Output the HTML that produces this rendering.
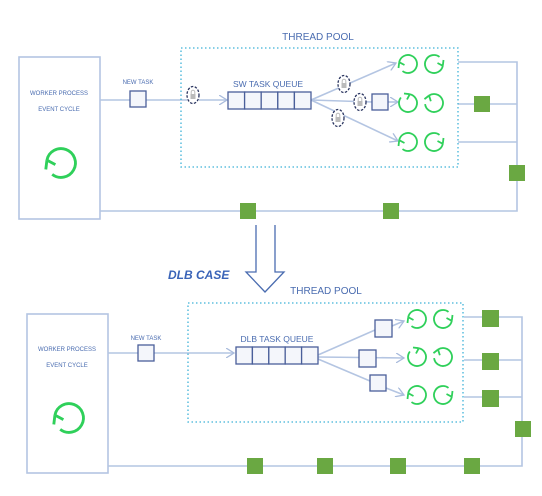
<!DOCTYPE html>
<html><head><style>
html,body{margin:0;padding:0;background:#fff;}
svg{display:block;font-family:"Liberation Sans",sans-serif;}
</style></head><body>
<svg width="542" height="496" viewBox="0 0 542 496" xmlns="http://www.w3.org/2000/svg">
<defs>
<g id="cyc" fill="none" stroke="#2fd05a" stroke-width="1.8">
<path d="M -5.5 7.1 A 9 9 0 1 0 -8.8 -1.8"/>
<path d="M -8.8 -1.8 L -9.5 4 M -8.8 -1.8 L -3.5 1"/>
</g>
<g id="lock">
<ellipse cx="0" cy="0" rx="6" ry="8.5" fill="#fff" stroke="#2a3560" stroke-width="1.3" stroke-dasharray="2.5 1.5"/>
<rect x="-2.5" y="-1" width="5" height="5" fill="#bbb"/>
<path d="M -1.8 -1 v -2 a 1.8 1.8 0 0 1 3.6 0 v 2" fill="none" stroke="#bbb" stroke-width="1"/>
</g>
<marker id="ar" markerWidth="10" markerHeight="10" refX="8" refY="5" orient="auto" markerUnits="userSpaceOnUse">
<path d="M0 0 L8 5 L0 10" fill="none" stroke="#a9bbdc" stroke-width="1.3"/>
</marker>
</defs>

<!-- TOP -->
<g stroke="#b4c5e2" stroke-width="1.6" fill="none">
<rect x="19" y="57" width="81" height="162" fill="#fff"/>
<line x1="100" y1="100" x2="187" y2="100"/>
<line x1="199" y1="100" x2="227" y2="100" marker-end="url(#ar)"/>
<line x1="311" y1="100" x2="396" y2="63" marker-end="url(#ar)"/>
<line x1="311" y1="100" x2="372" y2="102"/>
<line x1="388" y1="102" x2="398" y2="102" marker-end="url(#ar)"/>
<line x1="311" y1="100" x2="398" y2="141" marker-end="url(#ar)"/>
<polyline points="458,62 517,62 517,211 100,211"/>
<line x1="458" y1="104" x2="517" y2="104"/>
<line x1="458" y1="142" x2="517" y2="142"/>
</g>
<rect x="181" y="48" width="277" height="119" fill="none" stroke="#3fb2d8" stroke-width="1.3" stroke-dasharray="1.5 2.5"/>
<text x="318" y="40" font-size="10" fill="#4a6cb0" text-anchor="middle">THREAD POOL</text>
<text x="59" y="95" font-size="6" fill="#4a6cb0" text-anchor="middle">WORKER PROCESS</text>
<text x="59" y="111" font-size="6" fill="#4a6cb0" text-anchor="middle">EVENT CYCLE</text>
<text x="138" y="84" font-size="6" fill="#4a6cb0" text-anchor="middle">NEW TASK</text>
<text x="268" y="87" font-size="8.5" fill="#4a6cb0" text-anchor="middle">SW TASK QUEUE</text>
<rect x="130" y="91" width="16" height="16" fill="#f4f6fb" stroke="#4a5f9a" stroke-width="1.3"/>
<g fill="#f4f6fb" stroke="#4a5f9a" stroke-width="1.3">
<rect x="228" y="92" width="16.6" height="17"/><rect x="244.6" y="92" width="16.6" height="17"/><rect x="261.2" y="92" width="16.6" height="17"/><rect x="277.8" y="92" width="16.6" height="17"/><rect x="294.4" y="92" width="16.6" height="17"/>
<rect x="372" y="94" width="16" height="16"/>
</g>
<use href="#lock" x="193" y="95"/>
<use href="#lock" x="344" y="84"/>
<use href="#lock" x="360" y="102"/>
<use href="#lock" x="338" y="118"/>
<use href="#cyc" x="408" y="64"/>
<use href="#cyc" transform="translate(434,64) rotate(180)"/>
<use href="#cyc" transform="translate(408,103) rotate(90)"/>
<use href="#cyc" transform="translate(434,103) rotate(45)"/>
<use href="#cyc" x="408" y="142"/>
<use href="#cyc" transform="translate(434,142) rotate(180)"/>
<use href="#cyc" transform="translate(61,163) scale(1.6)"/>
<g fill="#6aa842">
<rect x="474" y="96" width="16" height="16"/>
<rect x="509" y="165" width="16" height="16"/>
<rect x="240" y="203" width="16" height="16"/>
<rect x="383" y="203" width="16" height="16"/>
</g>

<!-- ARROW -->
<path d="M256 225 V272 H246 L265 292 L284 272 H275 V225" fill="#fff" stroke="#4a6cb0" stroke-width="1.3"/>
<text x="168" y="279" font-size="12" font-weight="bold" font-style="italic" fill="#3a64b8">DLB CASE</text>

<!-- BOTTOM -->
<g stroke="#b4c5e2" stroke-width="1.6" fill="none">
<rect x="27" y="314" width="81" height="159" fill="#fff"/>
<line x1="108" y1="353" x2="234" y2="353" marker-end="url(#ar)"/>
<line x1="318" y1="355" x2="375" y2="330"/>
<line x1="392" y1="326" x2="404" y2="321" marker-end="url(#ar)"/>
<line x1="318" y1="357" x2="404" y2="358" marker-end="url(#ar)"/>
<line x1="318" y1="359" x2="370" y2="381"/>
<line x1="386" y1="388" x2="404" y2="395" marker-end="url(#ar)"/>
<polyline points="464,317 522,317 522,466 108,466"/>
<line x1="464" y1="360" x2="522" y2="360"/>
<line x1="464" y1="397" x2="522" y2="397"/>
</g>
<rect x="188" y="303" width="275" height="119" fill="none" stroke="#3fb2d8" stroke-width="1.3" stroke-dasharray="1.5 2.5"/>
<text x="326" y="294" font-size="10" fill="#4a6cb0" text-anchor="middle">THREAD POOL</text>
<text x="67" y="351" font-size="6" fill="#4a6cb0" text-anchor="middle">WORKER PROCESS</text>
<text x="67" y="367" font-size="6" fill="#4a6cb0" text-anchor="middle">EVENT CYCLE</text>
<text x="146" y="340" font-size="6" fill="#4a6cb0" text-anchor="middle">NEW TASK</text>
<text x="277" y="342" font-size="8.5" fill="#4a6cb0" text-anchor="middle">DLB TASK QUEUE</text>
<g fill="#f4f6fb" stroke="#4a5f9a" stroke-width="1.3">
<rect x="138" y="345" width="16" height="16"/>
<rect x="236" y="347" width="16.4" height="17"/><rect x="252.4" y="347" width="16.4" height="17"/><rect x="268.8" y="347" width="16.4" height="17"/><rect x="285.2" y="347" width="16.4" height="17"/><rect x="301.6" y="347" width="16.4" height="17"/>
<rect x="375" y="320" width="17" height="17"/>
<rect x="359" y="350" width="17" height="17"/>
<rect x="370" y="375" width="16" height="16"/>
</g>
<use href="#cyc" x="417" y="319"/>
<use href="#cyc" transform="translate(443,319) rotate(180)"/>
<use href="#cyc" transform="translate(417,357) rotate(90)"/>
<use href="#cyc" transform="translate(443,357) rotate(45)"/>
<use href="#cyc" x="417" y="395"/>
<use href="#cyc" transform="translate(443,395) rotate(180)"/>
<use href="#cyc" transform="translate(69,418) scale(1.6)"/>
<g fill="#6aa842">
<rect x="482" y="310" width="17" height="17"/>
<rect x="482" y="353" width="17" height="17"/>
<rect x="482" y="390" width="17" height="17"/>
<rect x="515" y="421" width="16" height="16"/>
<rect x="247" y="458" width="16" height="16"/>
<rect x="317" y="458" width="16" height="16"/>
<rect x="390" y="458" width="16" height="16"/>
<rect x="464" y="458" width="16" height="16"/>
</g>
</svg>
</body></html>
